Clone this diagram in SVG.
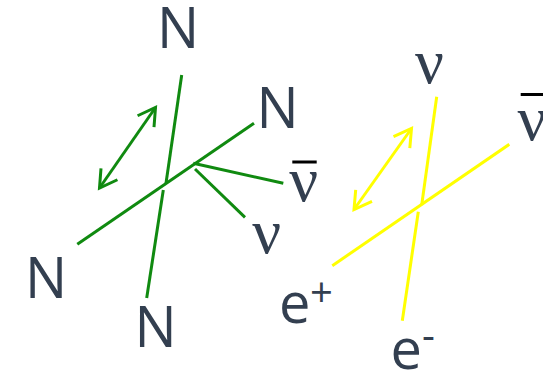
<svg xmlns="http://www.w3.org/2000/svg" width="543" height="372" viewBox="0 0 543 372">
<defs>
<style>
.lbl{font-family:"Open Sans","Liberation Sans",sans-serif;font-size:56px;fill:#333F50}
.sup{font-size:40px}
.nu{font-family:"Liberation Serif","DejaVu Serif",serif;font-size:64px;fill:#333F50}
.bar{stroke:#000;stroke-width:3}
.g{stroke:#108A10;stroke-width:3;fill:none}
.y{stroke:#FFFF00;stroke-width:3;fill:none}
</style>
<marker id="ag" markerUnits="userSpaceOnUse" markerWidth="40" markerHeight="40" viewBox="-20 -20 40 40" refX="0" refY="0" orient="auto-start-reverse">
<path d="M-17,-10 L0,0 L-17,10" fill="none" stroke="#108A10" stroke-width="3"/>
</marker>
<marker id="ay" markerUnits="userSpaceOnUse" markerWidth="40" markerHeight="40" viewBox="-20 -20 40 40" refX="0" refY="0" orient="auto-start-reverse">
<path d="M-17,-10 L0,0 L-17,10" fill="none" stroke="#FFFF00" stroke-width="3"/>
</marker>
</defs>
<g id="connectors">
<line class="g" x1="181.7" y1="75" x2="166" y2="183.3"/>
<line class="g" x1="163.3" y1="190" x2="146.7" y2="298"/>
<line class="g" x1="77.3" y1="244.3" x2="254" y2="123.3"/>
<line class="g" x1="193.3" y1="163.3" x2="283.3" y2="183.3"/>
<line class="g" x1="195" y1="169" x2="245" y2="217.3"/>
<line class="g" x1="99.5" y1="188" x2="155.5" y2="107.5" marker-start="url(#ag)" marker-end="url(#ag)"/>
<line class="y" x1="436.7" y1="96.7" x2="421.7" y2="205"/>
<line class="y" x1="418.3" y1="211.7" x2="402.3" y2="320.7"/>
<line class="y" x1="332.3" y1="265.7" x2="509.3" y2="144.3"/>
<line class="y" x1="354" y1="209.5" x2="411.5" y2="128.5" marker-start="url(#ay)" marker-end="url(#ay)"/>
</g>
<g id="n-top"><text class="lbl" x="178" y="48.3" text-anchor="middle">N</text></g>
<g id="n-right"><text class="lbl" x="277.5" y="127.7" text-anchor="middle">N</text></g>
<g id="n-left"><text class="lbl" x="46" y="298.3" text-anchor="middle">N</text></g>
<g id="n-bottom"><text class="lbl" x="155.5" y="347.3" text-anchor="middle">N</text></g>
<g id="nu-left"><text class="nu" x="266.7" y="253" text-anchor="middle">ν</text></g>
<g id="nubar-left"><text class="nu" x="303.7" y="200.7" text-anchor="middle">ν</text><line class="bar" x1="292.3" y1="162" x2="316.7" y2="162"/></g>
<g id="nu-right"><text class="nu" x="429.5" y="83" text-anchor="middle">ν</text></g>
<g id="nubar-right"><text class="nu" x="532" y="140" text-anchor="middle">ν</text><line class="bar" x1="520.7" y1="94.5" x2="545" y2="94.5"/></g>
<g id="e-plus"><text class="lbl" x="279" y="323">e<tspan class="sup" x="310" y="307">+</tspan></text></g>
<g id="e-minus"><text class="lbl" x="390.5" y="369">e<tspan class="sup" x="422" y="349">-</tspan></text></g>
</svg>
